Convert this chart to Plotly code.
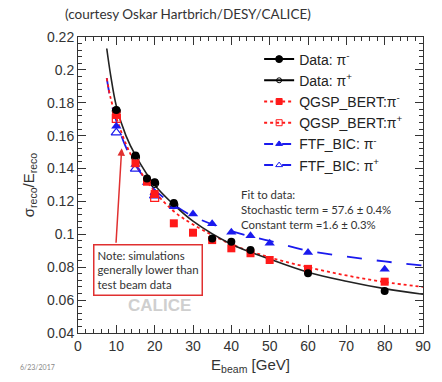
import plotly.graph_objects as go

# ---------------- data ----------------
E_data_neg = [10, 15, 18, 20, 25, 35, 40, 45, 60, 80]
data_neg = [0.1756, 0.148, 0.134, 0.1317, 0.119, 0.0975, 0.0955, 0.0905, 0.0763, 0.0655]
E_data_pos = [10, 15, 20, 25]
data_pos = [0.1750, 0.1470, 0.1310, 0.1180]

E_qgsp_neg = [10, 15, 18, 20, 25, 30, 35, 40, 45, 50, 60, 80]
qgsp_neg = [0.1726, 0.1432, 0.132, 0.1245, 0.1067, 0.101, 0.0965, 0.0915, 0.0885, 0.0844, 0.079, 0.0712]
E_qgsp_pos = [10, 20]
qgsp_pos = [0.1705, 0.1225]

E_ftf_neg = [10, 15, 18, 20, 25, 30, 35, 40, 45, 50, 60, 80]
ftf_neg = [0.1658, 0.1424, 0.1315, 0.1253, 0.1168, 0.1123, 0.1064, 0.1013, 0.0991, 0.0946, 0.0889, 0.0788]
E_ftf_pos = [10, 15, 20]
ftf_pos = [0.1618, 0.1398, 0.1235]

E_fit = [7.5, 8.5, 10, 12.5, 15, 20, 25, 30, 40, 50, 60, 70, 80, 90]
fit_data = [0.213, 0.197, 0.178, 0.160, 0.148, 0.130, 0.118, 0.108, 0.094, 0.085, 0.077, 0.0715, 0.067, 0.0636]
fit_qgsp = [0.195, 0.183, 0.171, 0.155, 0.143, 0.126, 0.114, 0.106, 0.094, 0.086, 0.080, 0.075, 0.071, 0.068]
fit_ftf = [0.195, 0.182, 0.169, 0.153, 0.142, 0.127, 0.118, 0.111, 0.102, 0.096, 0.090, 0.0865, 0.0835, 0.081]

legend_labels = ["Data: π<sup>-</sup>", "Data: π<sup>+</sup>",
                 "QGSP_BERT:π<sup>-</sup>", "QGSP_BERT:π<sup>+</sup>",
                 "FTF_BIC: π<sup>-</sup>", "FTF_BIC: π<sup>+</sup>"]

BLACK = "#000000"
RED = "#ff1a1a"
BLUE = "#1a1aee"

fig = go.Figure()

# fit curves
fig.add_trace(go.Scatter(x=E_fit, y=fit_ftf, mode="lines", line=dict(color=BLUE, width=1.8, dash="longdash", shape="spline"), showlegend=False))
fig.add_trace(go.Scatter(x=E_fit, y=fit_qgsp, mode="lines", line=dict(color=RED, width=1.8, dash="dot", shape="spline"), showlegend=False))
fig.add_trace(go.Scatter(x=E_fit, y=fit_data, mode="lines", line=dict(color="#222222", width=1.6, shape="spline"), showlegend=False))

# markers
fig.add_trace(go.Scatter(x=E_data_pos, y=data_pos, mode="markers", marker=dict(symbol="circle-open", size=8, color=BLACK, line=dict(width=1.2)), showlegend=False))
fig.add_trace(go.Scatter(x=E_ftf_pos, y=ftf_pos, mode="markers", marker=dict(symbol="triangle-up-open", size=9, color=BLUE, line=dict(width=1.2)), showlegend=False))
fig.add_trace(go.Scatter(x=E_qgsp_pos, y=qgsp_pos, mode="markers", marker=dict(symbol="square-open", size=8, color=RED, line=dict(width=1.2)), showlegend=False))
fig.add_trace(go.Scatter(x=E_ftf_neg, y=ftf_neg, mode="markers", marker=dict(symbol="triangle-up", size=9, color=BLUE), showlegend=False))
fig.add_trace(go.Scatter(x=E_qgsp_neg, y=qgsp_neg, mode="markers", marker=dict(symbol="square", size=8, color=RED), showlegend=False))
fig.add_trace(go.Scatter(x=E_data_neg, y=data_neg, mode="markers", marker=dict(symbol="circle", size=8, color=BLACK), showlegend=False))

# legend entries
leg_styles = [
    (BLACK, "solid", "circle", 7),
    (BLACK, "solid", "circle-open", 5),
    (RED, "dot", "square", 6),
    (RED, "dot", "square-open", 6),
    (BLUE, "dash", "triangle-up", 6),
    (BLUE, "dash", "triangle-up-open", 6),
]
for lab, (c, d, s, sz) in zip(legend_labels, leg_styles):
    fig.add_trace(go.Scatter(x=[None], y=[None], mode="lines+markers", name=lab,
                             line=dict(color=c, dash=d, width=2),
                             marker=dict(symbol=s, size=sz, color=c, line=dict(width=1, color=c))))

# helper trace to show mirrored (top/right) tick marks
fig.add_trace(go.Scatter(x=[None], y=[None], xaxis="x2", yaxis="y2", showlegend=False, hoverinfo="skip"))

FONT = "Liberation Sans, Arial, sans-serif"
CAL = "Lato, Open Sans, sans-serif"
AX = "#333333"

axis_common = dict(showline=True, linecolor=AX, linewidth=1, mirror=True,
                   ticks="inside", ticklen=8, tickcolor=AX, showgrid=False, zeroline=False,
                   tickfont=dict(family=FONT, size=14, color=AX))
mirror_common = dict(showline=False, ticks="inside", ticklen=8, tickcolor=AX, showgrid=False,
                     zeroline=False, showticklabels=False)

fig.update_layout(
    width=442, height=382,
    margin=dict(l=78, r=11, t=37, b=49),
    paper_bgcolor="white", plot_bgcolor="white",
    xaxis=dict(range=[0, 90], dtick=10, tick0=0,
               minor=dict(ticks="inside", dtick=2, ticklen=4, tickcolor=AX),
               title=dict(text="E<sub>beam</sub> [GeV]", font=dict(family=FONT, size=15, color=AX), standoff=6),
               **axis_common),
    yaxis=dict(range=[0.04, 0.22], dtick=0.02, tick0=0.04,
               minor=dict(ticks="inside", dtick=0.004, ticklen=4, tickcolor=AX),
               title=dict(text="σ<sub>reco</sub>/E<sub>reco</sub>", font=dict(family=FONT, size=15, color=AX), standoff=8),
               **axis_common),
    xaxis2=dict(overlaying="x", side="top", range=[0, 90], dtick=10, tick0=0,
                minor=dict(ticks="inside", dtick=2, ticklen=4, tickcolor=AX), **mirror_common),
    yaxis2=dict(overlaying="y", side="right", range=[0.04, 0.22], dtick=0.02, tick0=0.04,
                minor=dict(ticks="inside", dtick=0.004, ticklen=4, tickcolor=AX), **mirror_common),
    legend=dict(x=0.525, y=0.978, xanchor="left", yanchor="top", bgcolor="rgba(0,0,0,0)",
                font=dict(family=FONT, size=14, color="#222222"), tracegroupgap=0, itemwidth=30),
    showlegend=True,
)

fig.add_annotation(xref="paper", yref="paper", x=-0.043, y=1.078, xanchor="left", yanchor="middle",
                   text="(courtesy Oskar Hartbrich/DESY/CALICE)", showarrow=False,
                   font=dict(family=CAL, size=13.5, color="#333333"))
fig.add_annotation(x=42.0, y=0.1295, xanchor="left", yanchor="top", align="left",
                   text="Fit to data:<br>Stochastic term = 57.6 ± 0.4%<br>Constant term =1.6 ± 0.3%",
                   showarrow=False, font=dict(family=CAL, size=11.4, color="#333333"))
fig.add_annotation(x=3.9, y=0.094, xanchor="left", yanchor="top", align="left",
                   text="Note: simulations<br>generally lower than<br>test beam data",
                   showarrow=False, font=dict(family=CAL, size=11.4, color="#333333"),
                   bordercolor="#e03030", borderwidth=1.5, borderpad=3, bgcolor="white")
fig.add_annotation(x=11.4, y=0.1523, ax=9.9, ay=0.094, axref="x", ayref="y", xref="x", yref="y",
                   showarrow=True, arrowhead=2, arrowsize=1, arrowwidth=1.5, arrowcolor="#e03030", text="")
fig.add_annotation(x=21.2, y=0.057, text="<b>CALICE</b>", showarrow=False,
                   font=dict(family=FONT, size=17, color="#cfcfcf"))
fig.add_annotation(xref="paper", yref="paper", x=-0.173, y=-0.115, xanchor="left", yanchor="middle",
                   text="6/23/2017", showarrow=False, font=dict(family=CAL, size=7, color="#888888"))

fig.write_html("out.html")
